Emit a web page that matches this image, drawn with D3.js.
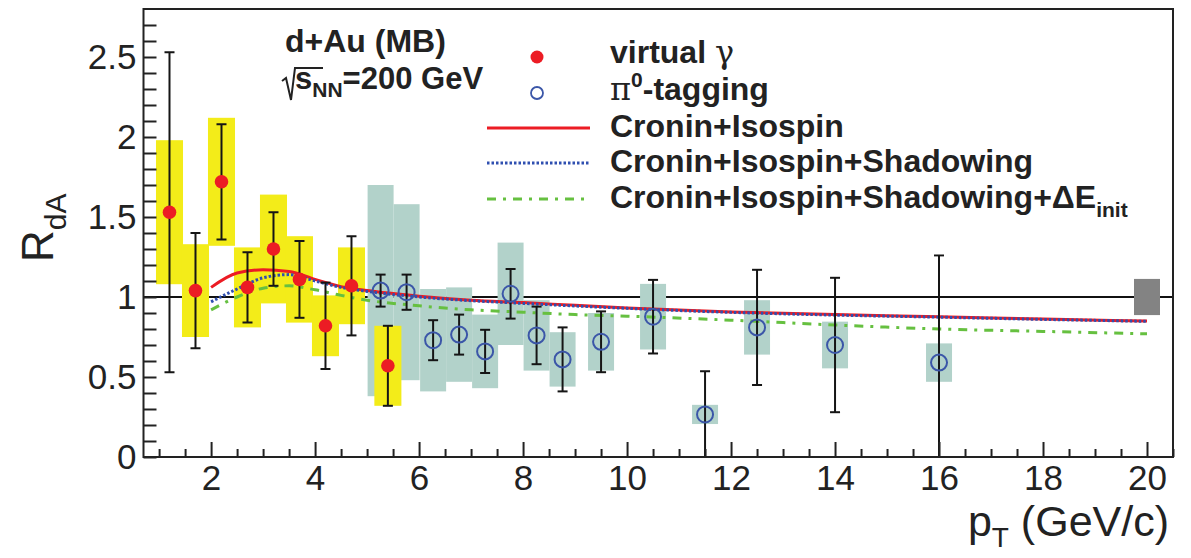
<!DOCTYPE html>
<html>
<head>
<meta charset="utf-8">
<script src="https://cdn.jsdelivr.net/npm/d3@7"></script>
<style>
  body { margin: 0; background: #fff; }
  svg { font-family: "Liberation Sans", Arial, Helvetica, sans-serif; }
</style>
</head>
<body>
<svg id="chart"></svg>
<script>
// virtual photon (red points, yellow sys boxes)
const vgPt   = [1.2, 1.7, 2.2, 2.7, 3.2, 3.7, 4.2, 4.7, 5.4];
const vgR    = [1.53, 1.04, 1.72, 1.06, 1.30, 1.11, 0.82, 1.07, 0.57];
const vgStat = [1.00, 0.36, 0.36, 0.22, 0.23, 0.24, 0.27, 0.31, 0.25];
const vgSys  = [0.45, 0.29, 0.40, 0.25, 0.34, 0.27, 0.19, 0.24, 0.25];

// pi0 tagging (open circles, grey-green sys boxes)
const tagPt   = [5.26, 5.76, 6.27, 6.77, 7.27, 7.76, 8.26, 8.76, 9.5, 10.5, 11.5, 12.5, 14, 16];
const tagR    = [1.04, 1.03, 0.73, 0.765, 0.66, 1.02, 0.76, 0.61, 0.72, 0.877, 0.266, 0.81, 0.70, 0.59];
const tagStat = [0.10, 0.11, 0.125, 0.125, 0.135, 0.155, 0.18, 0.20, 0.19, 0.23, 0.27, 0.36, 0.42, 0.67];
const tagSys  = [0.66, 0.55, 0.32, 0.295, 0.23, 0.32, 0.22, 0.17, 0.18, 0.205, 0.06, 0.17, 0.146, 0.12];

// theory curves
const thPt      = [2, 2.5, 3, 3.5, 4, 4.5, 5, 6, 7, 8, 9, 10, 12, 14, 16, 18, 20];
const cronin    = [1.06, 1.15, 1.17, 1.16, 1.11, 1.065, 1.04, 1.005, 0.98, 0.965, 0.948, 0.932, 0.907, 0.89, 0.877, 0.862, 0.85];
const shadowing = [0.97, 1.05, 1.12, 1.14, 1.10, 1.06, 1.035, 1.0, 0.977, 0.96, 0.944, 0.929, 0.904, 0.887, 0.874, 0.86, 0.848];
const eloss     = [0.92, 1.0, 1.055, 1.07, 1.045, 1.01, 0.98, 0.945, 0.92, 0.905, 0.89, 0.88, 0.855, 0.825, 0.80, 0.785, 0.77];

// normalisation uncertainty at 1
const normPt = 20, normErr = 0.113;

const xMajor = [2, 4, 6, 8, 10, 12, 14, 16, 18, 20];
const yMajor = [0, 0.5, 1, 1.5, 2, 2.5];

const W = 1191, H = 558;
const frame = { left: 143.5, top: 9, right: 1173, bottom: 457 };

const svg = d3.select("#chart").attr("width", W).attr("height", H);

const x = d3.scaleLinear().domain([0.7, 20.5]).range([frame.left, frame.right]);
const y = d3.scaleLinear().domain([0, 2.8]).range([frame.bottom, frame.top]);

const red = "#ec1c24", yellow = "#f3ec19", teal = "#b2d2ca", blue = "#3b56a8";

svg.append("defs").append("clipPath").attr("id", "plot")
    .append("rect")
    .attr("x", frame.left).attr("y", frame.top)
    .attr("width", frame.right - frame.left).attr("height", frame.bottom - frame.top);

const plot = svg.append("g").attr("clip-path", "url(#plot)");

// line at R = 1
plot.append("line")
    .attr("x1", frame.left).attr("x2", frame.right)
    .attr("y1", y(1)).attr("y2", y(1))
    .attr("stroke", "#111").attr("stroke-width", 2);

// systematic boxes
function drawBoxes(pts, vals, sys, half, fill) {
    plot.append("g").selectAll("rect")
        .data(pts)
        .enter().append("rect")
        .attr("x", (d, i) => x(d - half))
        .attr("width", (d, i) => x(d + half) - x(d - half))
        .attr("y", (d, i) => y(vals[i] + sys[i]))
        .attr("height", (d, i) => y(vals[i] - sys[i]) - y(vals[i] + sys[i]))
        .attr("fill", fill);
}
drawBoxes(tagPt, tagR, tagSys, 0.25, teal);
drawBoxes(vgPt, vgR, vgSys, 0.26, yellow);

// global normalisation box
plot.append("rect")
    .attr("x", x(normPt - 0.25)).attr("width", x(normPt + 0.25) - x(normPt - 0.25))
    .attr("y", y(1 + normErr)).attr("height", y(1 - normErr) - y(1 + normErr))
    .attr("fill", "#838383");

// theory curves
const curves = [
    { vals: cronin, color: "#ec1c24", dash: null, width: 3 },
    { vals: shadowing, color: "#2f4fb0", dash: "2.5,2", width: 3 },
    { vals: eloss, color: "#66c040", dash: "9,7,3,7", width: 3 }
];
const line = d3.line()
    .x(d => x(d[0]))
    .y(d => y(d[1]))
    .curve(d3.curveMonotoneX);
curves.forEach(c => {
    plot.append("path")
        .attr("d", line(thPt.map((p, i) => [p, c.vals[i]])))
        .attr("fill", "none")
        .attr("stroke", c.color)
        .attr("stroke-width", c.width)
        .attr("stroke-dasharray", c.dash);
});

// statistical error bars
function drawErrors(pts, vals, err) {
    const g = plot.append("g").attr("stroke", "#151515").attr("stroke-width", 2);
    pts.forEach((p, i) => {
        const hi = vals[i] + err[i], lo = vals[i] - err[i];
        g.append("line").attr("x1", x(p)).attr("x2", x(p)).attr("y1", y(hi)).attr("y2", y(lo));
        [hi, lo].forEach(v => {
            if (v > 0) {
                g.append("line").attr("x1", x(p) - 5).attr("x2", x(p) + 5).attr("y1", y(v)).attr("y2", y(v));
            }
        });
    });
}
drawErrors(tagPt, tagR, tagStat);
drawErrors(vgPt, vgR, vgStat);

// markers
plot.append("g").selectAll("circle")
    .data(tagPt)
    .enter().append("circle")
    .attr("cx", d => x(d))
    .attr("cy", (d, i) => y(tagR[i]))
    .attr("r", 8)
    .attr("fill", "none")
    .attr("stroke", blue)
    .attr("stroke-width", 2);

plot.append("g").selectAll("circle")
    .data(vgPt)
    .enter().append("circle")
    .attr("cx", d => x(d))
    .attr("cy", (d, i) => y(vgR[i]))
    .attr("r", 6.8)
    .attr("fill", red);

// axes, ticks pointing inside the frame
const xMinor = d3.range(1, 20.51, 0.5).filter(v => !xMajor.includes(v));
const yMinor = d3.range(0, 2.8, 0.1).map(v => +v.toFixed(1)).filter(v => !yMajor.includes(v));

svg.append("g")
    .attr("transform", `translate(0,${frame.bottom})`)
    .call(d3.axisBottom(x).tickValues(xMinor).tickSize(-8).tickFormat(""))
    .call(g => g.select(".domain").remove());

svg.append("g")
    .attr("class", "xaxis")
    .attr("transform", `translate(0,${frame.bottom})`)
    .call(d3.axisBottom(x).tickValues(xMajor).tickSize(-15).tickPadding(8).tickFormat(d3.format("d")))
    .call(g => g.select(".domain").remove());

svg.append("g")
    .attr("transform", `translate(${frame.left},0)`)
    .call(d3.axisLeft(y).tickValues(yMinor).tickSize(-13).tickFormat(""))
    .call(g => g.select(".domain").remove());

svg.append("g")
    .attr("class", "yaxis")
    .attr("transform", `translate(${frame.left},0)`)
    .call(d3.axisLeft(y).tickValues(yMajor).tickSize(-13).tickPadding(7).tickFormat(d3.format("")))
    .call(g => g.select(".domain").remove());

svg.selectAll(".tick line").attr("stroke", "#222").attr("stroke-width", 2);
svg.selectAll(".xaxis text, .yaxis text")
    .attr("font-size", 35)
    .attr("fill", "#222")
    .attr("font-family", "Liberation Sans, Arial, sans-serif");

// frame
svg.append("rect")
    .attr("x", frame.left).attr("y", frame.top)
    .attr("width", frame.right - frame.left).attr("height", frame.bottom - frame.top)
    .attr("fill", "none").attr("stroke", "#222").attr("stroke-width", 2);

// axis titles
const yTitle = svg.append("text")
    .attr("transform", "translate(53,262) rotate(-90)")
    .attr("font-size", 44).attr("fill", "#222");
yTitle.append("tspan").text("R");
yTitle.append("tspan").attr("font-size", 30).attr("dy", 13).text("dA");

const xTitle = svg.append("text")
    .attr("x", 1169).attr("y", 536)
    .attr("text-anchor", "end")
    .attr("font-size", 43).attr("fill", "#222");
xTitle.append("tspan").text("p");
xTitle.append("tspan").attr("font-size", 28).attr("dy", 11).text("T");
xTitle.append("tspan").attr("dy", -11).text(" (GeV/c)");

// system label
svg.append("text")
    .attr("x", 285).attr("y", 52)
    .attr("font-size", 32).attr("font-weight", "bold").attr("fill", "#222")
    .text("d+Au (MB)");
svg.append("path")
    .attr("d", "M282,81 L286,78 L291,100 L295,68 L323,68")
    .attr("fill", "none").attr("stroke", "#222").attr("stroke-width", 2);
const sNN = svg.append("text")
    .attr("x", 295).attr("y", 89)
    .attr("font-size", 31).attr("font-weight", "bold").attr("fill", "#222");
sNN.append("tspan").text("s");
sNN.append("tspan").attr("font-size", 21).attr("dy", 8).text("NN");
sNN.append("tspan").attr("dy", -8).text("=200 GeV");

// legend
const legX = 610, legY = [63, 100, 137, 172, 208];
const leg = svg.append("g").attr("font-size", 32).attr("font-weight", "bold").attr("fill", "#222");

leg.append("circle").attr("cx", 537).attr("cy", legY[0] - 6).attr("r", 6.5).attr("fill", red);
leg.append("circle").attr("cx", 537).attr("cy", legY[1] - 7).attr("r", 6).attr("fill", "none")
    .attr("stroke", blue).attr("stroke-width", 1.8);
curves.forEach((c, i) => {
    leg.append("line")
        .attr("x1", 487).attr("x2", 590)
        .attr("y1", legY[2 + i] - 9).attr("y2", legY[2 + i] - 9)
        .attr("stroke", c.color).attr("stroke-width", c.width)
        .attr("stroke-dasharray", c.dash);
});

const t0 = leg.append("text").attr("x", legX).attr("y", legY[0]);
t0.append("tspan").text("virtual ");
t0.append("tspan").attr("font-family", "DejaVu Serif, serif").attr("font-weight", "normal").text("γ");

const t1 = leg.append("text").attr("x", legX).attr("y", legY[1]);
t1.append("tspan").attr("font-family", "DejaVu Serif, serif").attr("font-weight", "normal").text("π");
t1.append("tspan").attr("font-size", 21).attr("dy", -13).text("0");
t1.append("tspan").attr("dy", 13).text("-tagging");

leg.append("text").attr("x", legX).attr("y", legY[2]).text("Cronin+Isospin");
leg.append("text").attr("x", legX).attr("y", legY[3]).text("Cronin+Isospin+Shadowing");
const t4 = leg.append("text").attr("x", legX).attr("y", legY[4]);
t4.append("tspan").text("Cronin+Isospin+Shadowing+ΔE");
t4.append("tspan").attr("font-size", 21).attr("dy", 9).text("init");
</script>
</body>
</html>
